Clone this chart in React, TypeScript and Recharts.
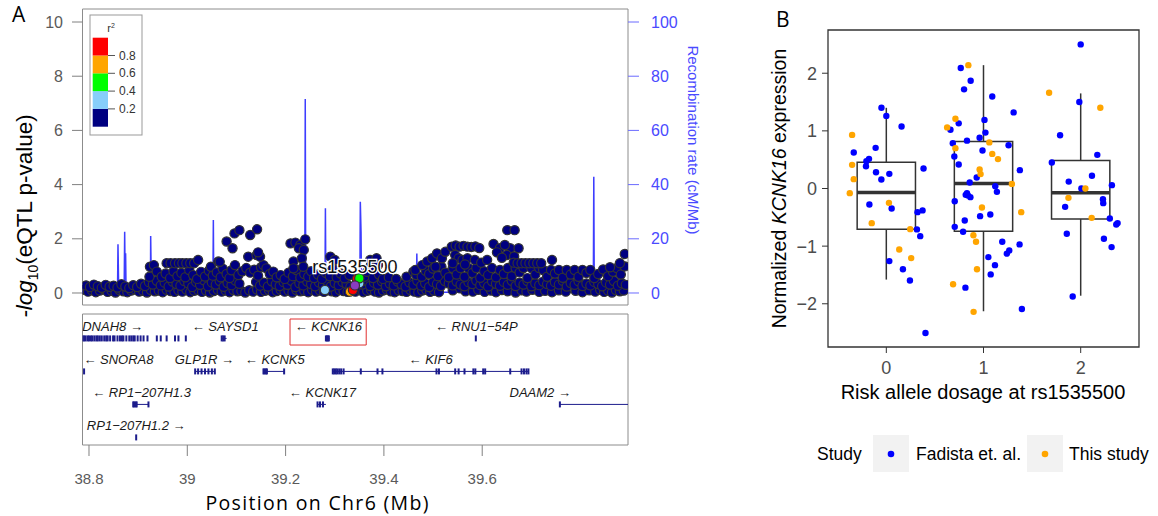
import React from "react";
import { ComposedChart, Scatter, Line, XAxis, YAxis, ReferenceArea, ReferenceLine } from "recharts";

const SANS = "'Liberation Sans', Arial, Helvetica, sans-serif";
const TITLE = "'Open Sans', 'Noto Sans', sans-serif";

// ---- panel A: eQTL locus plot ----
const X_MIN = 38.7868;
const X_MAX = 39.8966;
const P_DOMAIN = [-0.443, 10.48];
const R_DOMAIN = [-4.43, 104.8];
const pTicks = [0, 2, 4, 6, 8, 10];
const rTicks = [0, 20, 40, 60, 80, 100];
const posTicks = [38.8, 39, 39.2, 39.4, 39.6];

// lowest band of SNPs (r2 < 0.2)
const snpLow: [number, number][] = [
  [38.790,.12],[38.798,.05],[38.806,.10],[38.814,.03],[38.822,.09],[38.830,.14],[38.838,.04],[38.846,.08],[38.854,.02],[38.862,.11],
  [38.870,.06],[38.878,.03],[38.886,.09],[38.894,.13],[38.902,.05],[38.910,.08],[38.918,.02],[38.926,.11],[38.934,.06],[38.942,.09],
  [38.950,.03],[38.958,.12],[38.966,.07],[38.974,.04],[38.982,.10],[38.990,.05],[38.998,.13],[39.006,.03],[39.014,.08],[39.022,.11],
  [39.030,.04],[39.038,.09],[39.046,.02],[39.054,.07],[39.062,.12],[39.070,.05],[39.078,.09],[39.086,.03],[39.094,.11],[39.102,.06],
  [39.110,.08],[39.118,.02],[39.126,.10],[39.134,.05],[39.142,.13],[39.150,.04],[39.158,.08],[39.166,.11],[39.174,.03],[39.182,.07],
  [39.190,.12],[39.198,.05],[39.206,.09],[39.214,.02],[39.222,.11],[39.230,.06],[39.238,.08],[39.246,.03],[39.254,.12],[39.262,.05],
  [39.270,.09],[39.278,.04],[39.286,.10],[39.294,.06],[39.302,.03],[39.310,.11],[39.318,.07],[39.326,.04],[39.334,.09],[39.342,.05],
  [39.350,.12],[39.358,.03],[39.366,.08],[39.374,.11],[39.382,.05],[39.390,.02],[39.398,.09],[39.406,.13],[39.414,.06],[39.422,.03],
  [39.430,.10],[39.438,.07],[39.446,.04],[39.454,.11],[39.462,.05],[39.470,.02],[39.478,.09],[39.486,.12],[39.494,.04],[39.502,.08],
  [39.512,.03],[39.540,.10],[39.555,.17],[39.566,.06],[39.581,.05],[39.592,.12],[39.605,.04],[39.618,.09],[39.628,.03],[39.640,.11],
  [39.652,.06],[39.668,.02],[39.680,.10],[39.690,.05],[39.702,.12],[39.716,.04],[39.728,.08],[39.742,.03],[39.756,.10],[39.770,.05],
  [39.790,.08],[39.804,.03],[39.818,.10],[39.830,.05],[39.840,.12],[39.848,.04],[39.856,.09],[39.864,.02],[39.872,.11],[39.880,.06],
  [39.888,.09],
];

const snpMid: [number, number][] = [
  [38.794,.28],[38.802,.22],[38.810,.31],[38.818,.25],[38.826,.19],[38.834,.30],[38.842,.23],[38.850,.27],[38.858,.20],[38.866,.32],
  [38.874,.24],[38.882,.18],[38.890,.29],[38.898,.22],[38.906,.34],[38.914,.26],[38.922,.40],[38.930,.31],[38.938,.45],[38.946,.28],
  [38.954,.38],[38.962,.24],[38.970,.42],[38.978,.33],[38.986,.27],[38.994,.44],[39.002,.36],[39.010,.22],[39.018,.41],[39.026,.30],
  [39.034,.47],[39.042,.25],[39.050,.39],[39.058,.31],[39.066,.44],[39.074,.23],[39.082,.37],[39.090,.29],[39.098,.46],[39.106,.34],
  [39.140,.41],[39.148,.27],[39.156,.38],[39.164,.24],[39.172,.43],[39.180,.32],[39.188,.26],[39.196,.40],[39.204,.30],[39.212,.45],
  [39.220,.22],[39.228,.36],[39.236,.28],[39.244,.42],[39.252,.33],[39.260,.25],[39.268,.39],[39.276,.30],[39.284,.44],[39.292,.24],
  [39.300,.37],[39.308,.29],[39.316,.41],[39.324,.34],[39.332,.23],[39.348,.40],[39.356,.31],[39.364,.45],[39.372,.26],[39.380,.38],
  [39.388,.30],[39.396,.43],[39.404,.25],[39.412,.35],[39.420,.28],[39.428,.42],[39.436,.32],[39.444,.24],[39.452,.39],[39.460,.30],
  [39.468,.45],[39.476,.27],[39.484,.36],[39.492,.22],[39.500,.41],[39.508,.33],[39.516,.26],[39.524,.44],[39.532,.35],[39.540,.28],
  [39.548,.42],[39.556,.31],[39.564,.25],[39.572,.40],[39.580,.33],[39.588,.46],[39.596,.29],[39.604,.37],[39.612,.24],[39.620,.43],
  [39.628,.34],[39.636,.27],[39.644,.41],[39.652,.30],[39.660,.45],[39.668,.26],[39.676,.38],[39.684,.31],[39.692,.44],[39.700,.25],
  [39.708,.36],[39.716,.29],[39.724,.42],[39.732,.33],[39.740,.27],[39.748,.40],[39.756,.31],[39.764,.45],[39.772,.24],[39.780,.37],
  [39.788,.30],[39.796,.43],[39.804,.26],[39.812,.35],[39.820,.28],[39.828,.41],[39.836,.33],[39.844,.25],[39.852,.39],[39.860,.31],
  [39.868,.44],[39.876,.27],[39.884,.36],[39.892,.30],
];

const snpUpper: [number, number][] = [
  [38.924,.97],[38.923,.60],[38.932,1.03],[38.938,.79],[38.948,.60],[38.956,.72],[38.965,.55],[38.972,.80],[38.980,.62],[38.988,.74],
  [38.996,.58],[39.004,.85],[39.012,.66],[39.020,.52],[39.028,.78],[39.036,.61],[39.044,.82],[39.048,.97],[39.052,.64],[39.060,.76],
  [39.068,.58],[39.072,.90],[39.080,.70],[39.086,.55],[39.090,.84],[39.097,1.03],[39.104,.66],[39.112,.80],[39.120,.92],[39.128,.75],
  [39.136,.86],[39.144,.64],[39.150,.95],[39.155,1.03],[39.161,.91],[39.168,.70],[39.175,.79],[39.182,.58],[39.190,.66],[39.198,.52],
  [39.206,.75],[39.215,.62],[39.222,.85],[39.230,.57],[39.238,.70],[39.246,.60],[39.252,.80],[39.258,.55],[39.266,.68],[39.274,.52],
  [39.282,.74],[39.290,.62],[39.296,.90],[39.304,.58],[39.312,.72],[39.320,.54],[39.330,.66],[39.360,.60],[39.366,.78],[39.372,.97],
  [39.378,.55],[39.390,.68],[39.398,.52],[39.410,.58],[39.425,.52],[39.446,.60],[39.460,.79],[39.466,.66],[39.477,.60],[39.485,.82],
  [39.492,.70],[39.500,.90],[39.510,.62],[39.517,.97],[39.525,.75],[39.532,.58],[39.540,.92],[39.548,.68],[39.556,.92],[39.564,.60],
  [39.572,.92],[39.580,.74],[39.588,.92],[39.596,.56],[39.604,.80],[39.612,.66],[39.620,.92],[39.628,.58],[39.636,.85],[39.644,.70],
  [39.652,.92],[39.660,.62],[39.668,.92],[39.676,.76],[39.684,.92],[39.692,.55],[39.700,.92],[39.708,.68],[39.716,.92],[39.724,.85],
  [39.732,.60],[39.740,.85],[39.748,.72],[39.756,.85],[39.764,.56],[39.772,.85],[39.780,.68],[39.788,.85],[39.796,.60],[39.804,.85],
  [39.812,.74],[39.820,.85],[39.828,.55],[39.836,.70],[39.846,.87],[39.856,.62],[39.866,.78],[39.874,.92],[39.882,.68],[39.890,.98],
];

const snpPeak: [number, number][] = [
  [38.958,1.10],[38.966,1.10],[38.975,1.10],[38.983,1.10],[38.990,1.10],[38.998,1.10],[39.006,1.10],[39.014,1.10],[39.022,1.22],
  [39.063,1.16],[39.066,1.15],[39.080,1.90],[39.092,1.65],[39.096,2.20],[39.106,2.32],[39.128,2.14],[39.142,2.35],[39.124,1.34],
  [39.141,1.40],[39.148,1.34],[39.144,1.50],[39.210,1.83],[39.220,1.86],[39.230,1.77],[39.240,1.98],[39.227,1.65],[39.237,1.59],
  [39.216,1.16],[39.233,1.28],[39.216,.91],[39.236,.97],[39.291,1.34],[39.300,1.22],[39.372,1.22],[39.385,1.28],[39.388,1.03],
  [39.464,.85],[39.478,1.03],[39.488,1.16],[39.498,1.28],[39.508,1.46],[39.518,1.28],[39.525,1.52],[39.505,.97],
  [39.538,1.71],[39.546,1.75],[39.554,1.71],[39.562,1.74],[39.570,1.71],[39.578,1.70],[39.586,1.72],[39.594,1.66],
  [39.545,1.40],[39.552,1.28],[39.560,1.22],[39.570,1.28],[39.585,1.22],[39.598,1.12],[39.540,1.10],[39.565,1.05],
  [39.623,1.81],[39.636,1.65],[39.657,1.65],[39.674,1.65],[39.646,1.77],[39.650,1.40],[39.610,1.22],[39.630,1.50],[39.651,2.32],
  [39.666,2.32],[39.640,1.30],[39.665,1.35],[39.664,1.12],[39.672,1.10],[39.680,1.10],[39.688,1.10],[39.696,1.10],[39.704,1.10],
  [39.712,1.10],[39.720,1.10],[39.742,1.22],[39.860,.95],[39.880,1.10],[39.890,1.44],
];

// SNPs in LD with the index SNP
const ldLightBlue: [number, number][] = [[39.280, .11], [39.350, .36]];
const ldOrange: [number, number][] = [[39.331, .05]];
const ldRed: [number, number][] = [[39.345, .52], [39.337, .11]];
const ldGreen: [number, number][] = [[39.350, .54]];
const indexSnp: [number, number][] = [[39.341, .28]];

const recombRate: [number, number][] = [
  [38.787,.3],[38.858,.3],[38.859,18.0],[38.8605,.4],[38.8715,.4],[38.8726,22.6],[38.8738,1],[38.8745,14.7],[38.8755,.4],
  [38.925,.4],[38.9255,21.0],[38.927,.4],[39.052,.4],[39.053,26.9],[39.054,.4],[39.188,.4],[39.189,7.9],[39.190,.4],
  [39.2025,.4],[39.2035,7.9],[39.2045,.4],[39.239,.4],[39.240,71.6],[39.241,.4],[39.280,.4],[39.281,31.3],[39.282,.4],
  [39.351,.4],[39.352,33.7],[39.3535,22.3],[39.3545,.4],[39.466,.4],[39.467,14.6],[39.468,.4],[39.535,.3],[39.539,1.8],
  [39.543,.3],[39.826,.3],[39.827,42.9],[39.828,.3],[39.8966,.3],
];

// gene track
const geneNames = ["DNAH8", "SAYSD1", "KCNK16", "RNU1\u221254P", "SNORA8", "GLP1R", "KCNK5", "KIF6", "RP1\u2212207H1.3", "KCNK17", "DAAM2", "RP1\u2212207H1.2"];
const geneRow = [0, 0, 0, 0, 1, 1, 1, 1, 2, 2, 2, 3];
const geneStart = [38.786, 39.070, 39.282, 39.587, 38.790, 39.016, 39.155, 39.296, 38.890, 39.265, 39.758, 38.896];
const geneEnd = [38.997, 39.080, 39.289, 39.587, 38.790, 39.056, 39.197, 39.694, 38.921, 39.282, 39.8966, 38.896];
const geneStrand = [1, -1, -1, -1, -1, 1, -1, -1, -1, -1, 1, 1];
const geneLabelPos = [38.848, 39.077, 39.287, 39.588, 38.860, 39.035, 39.178, 39.495, 38.907, 39.275, 39.718, 38.896];
const geneExons: number[][] = [
  [38.787,38.790,38.793,38.797,38.800,38.804,38.807,38.811,38.815,38.818,38.822,38.826,38.831,38.835,38.838,38.843,38.849,38.852,
   38.858,38.863,38.867,38.870,38.876,38.882,38.886,38.890,38.893,38.899,38.905,38.911,38.919,38.938,38.946,38.958,38.975,38.982,38.997],
  [39.070, 39.073, 39.076],
  [39.282, 39.284, 39.286, 39.288],
  [39.587],
  [38.790],
  [39.016, 39.022, 39.029, 39.036, 39.043, 39.050, 39.056],
  [39.155, 39.157, 39.160, 39.162, 39.197],
  [39.296,39.299,39.302,39.305,39.309,39.313,39.318,39.353,39.387,39.397,39.507,39.512,39.545,39.552,39.564,39.582,39.586,
   39.602,39.606,39.657,39.680,39.685,39.690,39.694],
  [38.890, 38.892, 38.895, 38.897, 38.921],
  [39.265, 39.270, 39.276],
  [39.758],
  [38.896],
];

// ---- panel B: expression by risk allele dosage ----
const dosage = [0, 1, 2];
const boxQ1 = [-0.705, -0.74, -0.53];
const boxMedian = [-0.07, 0.087, -0.075];
const boxQ3 = [0.457, 0.815, 0.486];
const whiskerLo = [-1.58, -2.13, -1.86];
const whiskerHi = [1.40, 2.14, 1.65];

const fadista: [number, number][] = [
  [-0.05,1.40],[0,1.26],[0.157,1.075],[-0.11,0.705],[-0.335,0.624],[-0.178,0.514],[-0.205,0.474],[-0.209,0.387],[-0.106,0.283],
  [0.031,0.254],[-0.051,0.156],[0.383,0.347],[-0.174,-0.277],[0.055,-0.347],[0.321,-0.41],[0.373,-0.38],[0.315,-0.71],[0.349,-0.827],
  [0.031,-1.26],[0.171,-1.40],[0.243,-1.595],[0.403,-2.506],
  [0.766,2.09],[0.868,1.87],[0.80,1.72],[1.09,1.595],[1.31,1.32],[1.01,1.19],[0.745,1.13],[0.66,1.02],[1.02,0.97],[0.96,0.88],
  [0.83,0.83],[0.684,0.786],[1.258,0.75],[0.99,0.66],[0.70,0.555],[0.745,0.416],[1.374,0.318],[0.93,0.19],[0.858,0.104],[1.121,0.04],
  [1.138,-0.058],[0.83,-0.08],[0.817,-0.11],[0.865,-0.15],[0.84,-0.12],[0.704,-0.22],[1.07,-0.45],[0.965,-0.48],[0.807,-0.555],
  [0.704,-0.665],[0.79,-0.75],[1.193,-0.925],[1.371,-0.97],[1.265,-1.075],[1.24,-1.13],[1.05,-1.19],[1.118,-1.33],[1.074,-1.49],
  [0.814,-1.72],[1.395,-2.09],
  [2.0,2.50],[1.986,1.50],[1.788,0.925],[2.171,0.584],[1.703,0.45],[2.116,0.22],[1.877,0.12],[2.321,0.058],[2.007,0.0],[2.229,-0.185],
  [2.232,-0.254],[1.84,-0.318],[2.30,-0.52],[2.38,-0.60],[2.366,-0.624],[1.857,-0.786],[2.239,-0.873],[2.318,-1.017],[1.918,-1.873],
];

const thisStudy: [number, number][] = [
  [-0.352,0.93],[-0.352,0.41],[-0.335,0.162],[-0.376,-0.081],[0.027,-0.249],[-0.150,-0.601],[0.246,-0.705],[0.133,-1.058],[0.256,-1.208],
  [0.844,2.14],[0.711,1.21],[0.626,1.06],[0.711,0.70],[1.06,0.80],[1.09,0.60],[1.149,0.51],[0.96,0.33],[0.97,0.25],[1.292,0.08],
  [0.984,-0.33],[1.388,-0.41],[0.896,-0.81],[0.923,-0.925],[0.933,-1.40],[0.687,-1.66],[0.898,-2.14],
  [1.675,1.66],[2.202,1.40],[2.048,0.0],[1.874,-0.162],[2.113,-0.509],
];

const toXY = (a: [number, number][]) => a.map(([x, y]) => ({ x, y }));

const snpDot = (fill: string) => (p: any) => (
  <circle cx={p.cx} cy={p.cy} r={4.6} fill={fill} stroke="#333" strokeWidth={1.2} />
);

const indexShape = (p: any) => (
  <g>
    <circle cx={p.cx} cy={p.cy} r={4.6} fill="#8a3cc0" stroke="#333" strokeWidth={1.2} />
    <text x={p.cx} y={p.cy - 12} textAnchor="middle" fontSize={18} fontFamily={SANS} fill="#111"
      stroke="#fff" strokeWidth={2.5} paintOrder="stroke">rs1535500</text>
  </g>
);

const exonShape = (p: any) => <rect x={p.cx - 1} y={p.cy - 3} width={2} height={6} fill="#1c1c8c" />;

const geneLabelShape = (p: any) => (
  <text x={p.cx} y={p.cy} dy="0.35em" textAnchor="middle" fontSize={13} fontStyle="italic" fontFamily={SANS} fill="#1a1a1a">
    {p.payload.label}
  </text>
);

const bDot = (fill: string) => (p: any) => <circle cx={p.cx} cy={p.cy} r={3.2} fill={fill} />;

const ldColors = ["#000080", "#87cefa", "#00ff00", "#ffa500", "#ff0000"];
const ldBreaks = ["0.2", "0.4", "0.6", "0.8"];

export default function App() {
  const navy = toXY([...snpLow, ...snpMid, ...snpUpper, ...snpPeak]);
  const recomb = recombRate.map(([x, rate]) => ({ x, rate }));
  const exons = geneExons.flatMap((ex, i) => ex.map((x) => ({ x, y: geneRow[i] + 0.74 })));
  const labels = geneNames.map((n, i) => ({
    x: geneLabelPos[i],
    y: geneRow[i] + 0.385,
    label: geneStrand[i] > 0 ? `${n} \u2192` : `\u2190 ${n}`,
  }));

  return (
    <div style={{ position: "absolute", left: 0, top: 0, width: 1158, height: 516, background: "#fff", fontFamily: SANS }}>
      {/* A: association plot */}
      <div style={{ position: "absolute", left: 0, top: 0 }}>
        <ComposedChart width={720} height={312} margin={{ top: 9, right: 32, bottom: 7, left: 22.5 }}>
          <XAxis type="number" dataKey="x" domain={[X_MIN, X_MAX]} hide allowDataOverflow />
          <YAxis yAxisId="p" type="number" dataKey="y" domain={P_DOMAIN} ticks={pTicks} width={60} allowDataOverflow
            axisLine={false} tickSize={10.5} tickMargin={9} tickLine={{ stroke: "#808080" }}
            tick={{ fill: "#5a5a5a", fontSize: 16, fontFamily: SANS }} />
          <YAxis yAxisId="r" orientation="right" type="number" domain={R_DOMAIN} ticks={rTicks} width={60} allowDataOverflow
            axisLine={false} tickSize={11} tickMargin={12} tickLine={{ stroke: "#6b6bff" }}
            tick={{ fill: "#4a4aff", fontSize: 16, fontFamily: SANS }} />
          <ReferenceArea yAxisId="p" x1={X_MIN} x2={X_MAX} y1={P_DOMAIN[0]} y2={P_DOMAIN[1]} fill="none" stroke="#8c8c8c" strokeWidth={1} />
          <Line yAxisId="r" data={recomb} dataKey="rate" type="linear" stroke="#3d3dff" strokeWidth={1.5} dot={false} isAnimationActive={false} />
          <Scatter yAxisId="p" data={navy} dataKey="y" shape={snpDot(ldColors[0])} isAnimationActive={false} />
          <Scatter yAxisId="p" data={toXY(ldLightBlue)} dataKey="y" shape={snpDot(ldColors[1])} isAnimationActive={false} />
          <Scatter yAxisId="p" data={toXY(ldOrange)} dataKey="y" shape={snpDot(ldColors[3])} isAnimationActive={false} />
          <Scatter yAxisId="p" data={toXY(ldRed)} dataKey="y" shape={snpDot(ldColors[4])} isAnimationActive={false} />
          <Scatter yAxisId="p" data={toXY(ldGreen)} dataKey="y" shape={snpDot(ldColors[2])} isAnimationActive={false} />
          <Scatter yAxisId="p" data={toXY(indexSnp)} dataKey="y" shape={indexShape} isAnimationActive={false} />
        </ComposedChart>
      </div>

      {/* A: gene track */}
      <div style={{ position: "absolute", left: 0, top: 312 }}>
        <ComposedChart width={720} height={204} margin={{ top: 2, right: 92, bottom: 31, left: 82.5 }}>
          <XAxis type="number" dataKey="x" domain={[X_MIN, X_MAX]} ticks={posTicks} height={40} allowDataOverflow
            axisLine={false} tickSize={11} tickMargin={17} tickLine={{ stroke: "#808080" }}
            tick={{ fill: "#5a5a5a", fontSize: 15, fontFamily: SANS }} />
          <YAxis type="number" dataKey="y" domain={[0, 3.97]} reversed hide allowDataOverflow />
          <ReferenceArea x1={X_MIN} x2={X_MAX} y1={0} y2={3.97} fill="none" stroke="#8c8c8c" strokeWidth={1} />
          <ReferenceArea x1={39.209} x2={39.364} y1={0.152} y2={0.94} fill="none" stroke="#e03030" strokeWidth={1} />
          {geneNames.map((n, i) => (
            <ReferenceLine key={n} segment={[{ x: geneStart[i], y: geneRow[i] + 0.74 }, { x: geneEnd[i], y: geneRow[i] + 0.74 }]}
              stroke="#1c1c8c" strokeWidth={1} />
          ))}
          <Scatter data={exons} dataKey="y" shape={exonShape} isAnimationActive={false} />
          <Scatter data={labels} dataKey="y" shape={geneLabelShape} isAnimationActive={false} />
        </ComposedChart>
      </div>

      {/* B: box plot */}
      <div style={{ position: "absolute", left: 740, top: 0 }}>
        <ComposedChart width={418} height={380} margin={{ top: 30, right: 19, bottom: 8, left: 48 }}>
          <XAxis type="number" dataKey="x" domain={[-0.6, 2.6]} ticks={dosage} height={25} allowDataOverflow
            axisLine={false} tickSize={6} tickMargin={8} tickLine={{ stroke: "#333" }}
            tick={{ fill: "#4d4d4d", fontSize: 18, fontFamily: SANS }} />
          <YAxis type="number" dataKey="y" domain={[-2.75, 2.75]} ticks={[-2, -1, 0, 1, 2]} width={40} allowDataOverflow
            axisLine={false} tickSize={6} tickMargin={5} tickLine={{ stroke: "#333" }}
            tickFormatter={(v: number) => (v < 0 ? `\u2212${Math.abs(v)}` : String(v))}
            tick={{ fill: "#4d4d4d", fontSize: 18, fontFamily: SANS }} />
          {dosage.map((g, i) => (
            <ReferenceLine key={`wh${g}`} segment={[{ x: g, y: boxQ3[i] }, { x: g, y: whiskerHi[i] }]} stroke="#333" strokeWidth={1.5} />
          ))}
          {dosage.map((g, i) => (
            <ReferenceLine key={`wl${g}`} segment={[{ x: g, y: whiskerLo[i] }, { x: g, y: boxQ1[i] }]} stroke="#333" strokeWidth={1.5} />
          ))}
          {dosage.map((g, i) => (
            <ReferenceArea key={`bx${g}`} x1={g - 0.3} x2={g + 0.3} y1={boxQ1[i]} y2={boxQ3[i]} fill="#fff" fillOpacity={1} stroke="#333" strokeWidth={1.5} />
          ))}
          {dosage.map((g, i) => (
            <ReferenceLine key={`md${g}`} segment={[{ x: g - 0.3, y: boxMedian[i] }, { x: g + 0.3, y: boxMedian[i] }]} stroke="#333" strokeWidth={3.5} />
          ))}
          <ReferenceArea x1={-0.6} x2={2.6} y1={-2.75} y2={2.75} fill="none" stroke="#333" strokeWidth={1.3} />
          <Scatter name="Fadista et. al." data={toXY(fadista)} dataKey="y" shape={bDot("#0000ff")} isAnimationActive={false} />
          <Scatter name="This study" data={toXY(thisStudy)} dataKey="y" shape={bDot("#ffa500")} isAnimationActive={false} />
        </ComposedChart>
      </div>

      {/* titles, legends */}
      <svg width={1158} height={516} style={{ position: "absolute", left: 0, top: 0, pointerEvents: "none" }}>
        <text x={12} y={22} fontSize={21} fontFamily={TITLE} fill="#000">A</text>
        <text x={776} y={27} fontSize={21} fontFamily={TITLE} fill="#000">B</text>

        <text transform="translate(32,216) rotate(-90)" textAnchor="middle" fontSize={22.5} fontFamily={SANS} fill="#000">
          <tspan fontStyle="italic">-log</tspan>
          <tspan fontSize={14} dy={6}>10</tspan>
          <tspan dy={-6}>(eQTL p-value)</tspan>
        </text>
        <text transform="translate(688,140) rotate(90)" textAnchor="middle" fontSize={15} fontFamily={SANS} fill="#4a4aff">
          Recombination rate (cM/Mb)
        </text>
        <text x={317} y={510} textAnchor="middle" fontSize={19.5} fontFamily={TITLE} fill="#000"
          textLength={223} lengthAdjust="spacing">Position on Chr6 (Mb)</text>

        <rect x={90} y={15} width={52} height={120} fill="#fff" stroke="#999" />
        <text x={111} y={32} textAnchor="middle" fontSize={11} fontFamily={SANS} fill="#333">
          r<tspan fontSize={7} dy={-4}>2</tspan>
        </text>
        {ldColors.map((c, i) => (
          <rect key={c} x={92.7} y={108.9 - i * 17.8} width={15.3} height={17.8} fill={c} />
        ))}
        {ldBreaks.map((b, i) => (
          <g key={b}>
            <line x1={108} x2={115} y1={108.9 - i * 17.8} y2={108.9 - i * 17.8} stroke="#555" />
            <text x={119} y={108.9 - i * 17.8 + 4} fontSize={12} fontFamily={SANS} fill="#333">{b}</text>
          </g>
        ))}

        <text transform="translate(786,188.5) rotate(-90)" textAnchor="middle" fontSize={19.5} fontFamily={SANS} fill="#000">
          Normalized <tspan fontStyle="italic">KCNK16</tspan> expression
        </text>
        <text x={983} y={399} textAnchor="middle" fontSize={20} fontFamily={SANS} fill="#000">Risk allele dosage at rs1535500</text>

        <text x={817} y={460} fontSize={17.5} fontFamily={SANS} fill="#000">Study</text>
        <rect x={873} y={435} width={36} height={37} fill="#f2f2f2" />
        <circle cx={891} cy={454} r={3.3} fill="#0000ff" />
        <text x={916} y={460} fontSize={17.5} fontFamily={SANS} fill="#000">Fadista et. al.</text>
        <rect x={1027} y={435} width={36} height={37} fill="#f2f2f2" />
        <circle cx={1045} cy={454} r={3.3} fill="#ffa500" />
        <text x={1069} y={460} fontSize={17.5} fontFamily={SANS} fill="#000">This study</text>
      </svg>
    </div>
  );
}
